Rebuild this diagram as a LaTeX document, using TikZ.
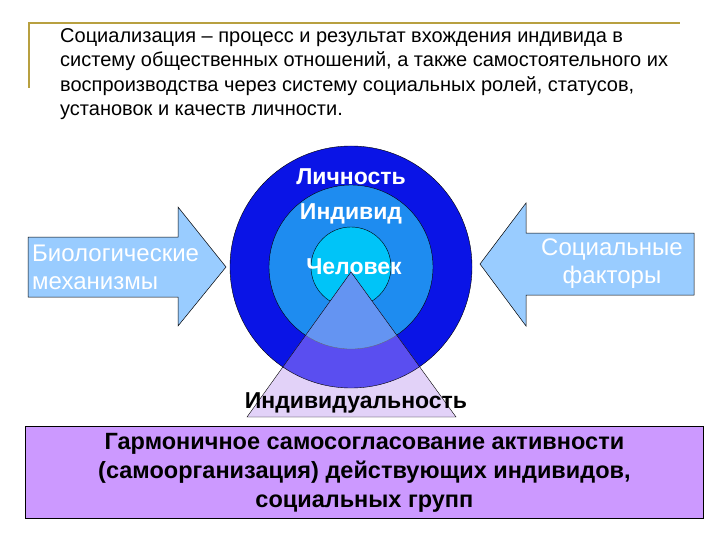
\documentclass[tikz,border=0pt]{standalone}
\usepackage{fontspec}
\setmainfont{Liberation Sans}
\begin{document}
\begin{tikzpicture}[x=1pt,y=-1pt,
  arrowshape/.style={fill=arrowblue,draw=black,line width=0.5pt},
  wtext/.style={text=white,font=\fontsize{24}{28}\selectfont,align=center},
  ctext/.style={text=white,font=\bfseries\fontsize{23}{26}\selectfont},
  outl/.style={draw=black,line width=0.4pt}]
\definecolor{arrowblue}{HTML}{99CCFF}
\definecolor{ringA}{HTML}{0A14E6}
\definecolor{ringB}{HTML}{1E8CF0}
\definecolor{ringC}{HTML}{00C4F8}
\definecolor{triA}{HTML}{5A4EF0}
\definecolor{triB}{HTML}{6494F2}
\definecolor{lav}{HTML}{E2D2F8}
\definecolor{boxc}{HTML}{CC99FF}
\definecolor{gold}{HTML}{B8A040}
\useasboundingbox (0,0) rectangle (720,540);
\fill[white] (0,0) rectangle (720,540);
\draw[gold,line width=1.2pt] (29,88) -- (29,23) -- (680,23);
\node[anchor=north west,align=left,font=\fontsize{20}{24.5}\selectfont,inner sep=0pt] (def) at (60,28)
 {Социализация -- процесс и результат вхождения индивида в\\систему общественных отношений, а также самостоятельного их\\воспроизводства через систему социальных ролей, статусов,\\установок и качеств личности.};
\draw[arrowshape] (28,237) -- (178,237) -- (178,207) -- (226,267) -- (178,326) -- (178,297) -- (28,297) -- cycle;
\draw[arrowshape] (694,233) -- (526,233) -- (526,203) -- (480,264) -- (526,326) -- (526,295) -- (694,295) -- cycle;
\node[wtext,anchor=west,align=left,inner sep=0pt] (bio) at (32,267) {Биологические\\механизмы};
\node[wtext] (soc) at (612,264) {Социальные\\факторы};
\coordinate (c) at (351,267);
\fill[ringA,outl] (c) circle (121);
\fill[ringB,outl] (c) circle (82);
\fill[ringC,outl] (c) circle (40);
\coordinate (apex) at (351,272);
\coordinate (bl) at (247,417);
\coordinate (br) at (456,417);
\fill[lav] (apex) -- (bl) -- (br) -- cycle;
\begin{scope}
\clip (apex) -- (bl) -- (br) -- cycle;
\fill[triA] (c) circle (121);
\fill[triB] (c) circle (82);
\draw[black,line width=0.4pt] (c) circle (121);
\draw[black!60,line width=0.3pt] (c) circle (82);
\end{scope}
\draw[outl] (apex) -- (bl) -- (br) -- cycle;
\node[ctext] (lich) at (351,177) {Личность};
\node[ctext] (ind) at (351,214) {Индивид};
\node[ctext] (chel) at (354,267) {Человек};
\node[font=\bfseries\fontsize{23}{26}\selectfont] (indv) at (356,403) {Индивидуальность};
\node[draw=black,line width=0.8pt,fill=boxc,minimum width=678pt,minimum height=92pt,anchor=north west,inner sep=0pt] (box) at (25,426) {};
\node[align=center,font=\bfseries\fontsize{23.5}{29}\selectfont] (boxt) at (box.center)
 {Гармоничное самосогласование активности\\(самоорганизация) действующих индивидов,\\социальных групп};
\end{tikzpicture}
\end{document}
